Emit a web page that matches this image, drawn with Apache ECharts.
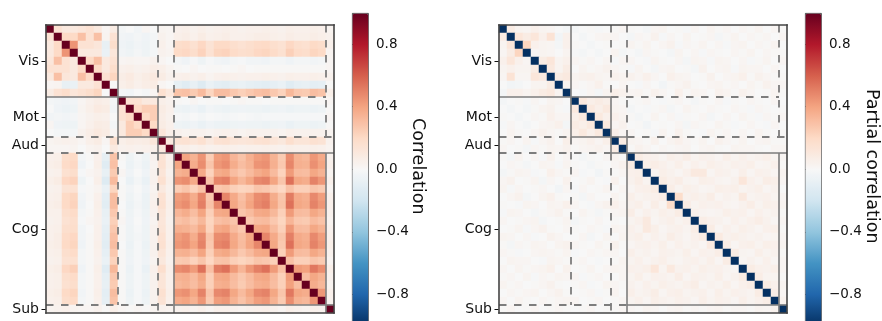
<!DOCTYPE html>
<html>
<head>
<meta charset="utf-8">
<script src="https://cdn.jsdelivr.net/npm/echarts@6/dist/echarts.min.js"></script>
<style>html,body{margin:0;padding:0;background:#fff}#c{width:882px;height:321px}</style>
</head>
<body>
<div id="c"></div>
<script>
// ---------- data ----------
const groupNames = ['Vis', 'Mot', 'Aud', 'Cog', 'Sub'];
const groupSizes = [9, 5, 2, 19, 1];
const colorbarTicks = [-0.8, -0.4, 0.0, 0.4, 0.8];
const leftTitle = 'Correlation';
const rightTitle = 'Partial correlation';
const corrDiag = 1.0;
const partialDiag = -1.0;

// lower triangles (row i holds columns 0..i-1); matrices are symmetric
const corrLower = [
 [],
 [0.15],
 [0.10,0.20],
 [0.10,0.20,0.45],
 [0.12,0.30,0.15,0.10],
 [0.15,0.15,0.15,0.10,0.20],
 [0.10,0.30,0.12,0.10,0.30,0.20],
 [0.02,0.03,-0.08,-0.07,0.10,0.10,0.15],
 [0.08,0.15,0.18,0.12,0.15,0.18,0.22,0.00],
 [-0.02,-0.03,-0.04,-0.03,0.02,0.05,0.07,0.06,-0.02],
 [0.00,-0.04,-0.06,-0.05,0.03,0.06,0.09,0.08,-0.03, 0.15],
 [-0.03,-0.02,-0.03,-0.02,0.02,0.04,0.06,0.05,0.00, 0.15,0.20],
 [0.02,-0.04,-0.05,-0.05,0.02,0.05,0.08,0.07,-0.02, 0.10,0.25,0.20],
 [0.00,-0.02,-0.02,-0.02,0.04,0.07,0.10,0.08,0.02, 0.10,0.25,0.25,0.20],
 [0.03,0.04,0.05,0.04,0.02,0.06,0.08,0.02,0.16, 0.06,0.08,0.07,0.08,0.12],
 [0.02,0.02,0.02,0.03,0.00,0.03,0.04,0.00,0.10, 0.04,0.05,0.04,0.05,0.06, 0.10],
 [0.05,0.06,0.18,0.20,-0.02,0.01,0.05,-0.09,0.29, 0.01,-0.05,-0.01,-0.05,0.04, 0.14,0.05],
 [0.06,0.07,0.19,0.21,-0.04,0.00,0.06,-0.12,0.30, 0.00,-0.06,-0.02,-0.06,0.03, 0.15,0.06, 0.40],
 [0.04,0.05,0.16,0.18,-0.01,0.02,0.04,-0.08,0.26, 0.02,-0.04,0.00,-0.04,0.04, 0.13,0.04, 0.35,0.37],
 [0.06,0.08,0.21,0.23,-0.05,0.00,0.06,-0.13,0.32, 0.00,-0.07,-0.02,-0.07,0.04, 0.16,0.06, 0.45,0.47,0.38],
 [0.04,0.05,0.14,0.15,-0.01,0.01,0.03,-0.07,0.22, 0.01,-0.03,0.00,-0.04,0.03, 0.10,0.04, 0.25,0.28,0.23,0.29],
 [0.05,0.06,0.20,0.22,-0.03,0.01,0.05,-0.10,0.31, 0.01,-0.05,-0.01,-0.06,0.04, 0.15,0.05, 0.42,0.44,0.37,0.49,0.27],
 [0.06,0.07,0.20,0.23,-0.04,0.00,0.06,-0.11,0.31, 0.00,-0.06,-0.02,-0.06,0.05, 0.16,0.06, 0.44,0.47,0.39,0.51,0.29,0.49],
 [0.05,0.05,0.17,0.19,-0.02,0.01,0.05,-0.08,0.27, 0.01,-0.05,-0.01,-0.05,0.04, 0.13,0.05, 0.34,0.37,0.31,0.40,0.24,0.38,0.39],
 [0.04,0.05,0.15,0.17,-0.01,0.02,0.04,-0.07,0.24, 0.02,-0.04,0.00,-0.04,0.03, 0.12,0.04, 0.29,0.31,0.27,0.33,0.22,0.30,0.32,0.28],
 [0.05,0.06,0.17,0.18,-0.03,0.00,0.05,-0.09,0.27, 0.01,-0.05,-0.01,-0.05,0.04, 0.13,0.05, 0.36,0.35,0.32,0.39,0.23,0.38,0.40,0.32,0.27],
 [0.05,0.07,0.19,0.21,-0.03,0.01,0.05,-0.10,0.30, 0.01,-0.05,-0.02,-0.05,0.04, 0.15,0.05, 0.42,0.45,0.37,0.48,0.28,0.47,0.48,0.38,0.31,0.39],
 [0.06,0.07,0.20,0.22,-0.04,0.01,0.06,-0.11,0.31, 0.00,-0.06,-0.01,-0.06,0.04, 0.16,0.06, 0.44,0.46,0.40,0.50,0.27,0.49,0.51,0.39,0.32,0.40,0.49],
 [0.05,0.06,0.17,0.19,-0.02,0.01,0.05,-0.09,0.27, 0.01,-0.05,-0.01,-0.05,0.04, 0.13,0.05, 0.35,0.36,0.32,0.40,0.24,0.37,0.39,0.33,0.27,0.32,0.38,0.39],
 [0.04,0.05,0.15,0.16,-0.02,0.01,0.04,-0.07,0.23, 0.01,-0.04,-0.01,-0.04,0.03, 0.11,0.04, 0.26,0.27,0.23,0.28,0.21,0.28,0.29,0.24,0.22,0.24,0.28,0.27,0.24],
 [0.06,0.07,0.21,0.24,-0.04,0.01,0.06,-0.12,0.33, 0.01,-0.06,-0.01,-0.07,0.05, 0.17,0.06, 0.47,0.49,0.43,0.55,0.30,0.52,0.55,0.43,0.34,0.44,0.51,0.55,0.43,0.30],
 [0.05,0.06,0.17,0.19,-0.02,0.01,0.05,-0.09,0.27, 0.01,-0.05,-0.01,-0.05,0.04, 0.13,0.05, 0.35,0.36,0.32,0.39,0.24,0.38,0.39,0.32,0.27,0.32,0.38,0.39,0.32,0.24,0.43],
 [0.05,0.06,0.16,0.18,-0.02,0.01,0.05,-0.08,0.26, 0.01,-0.05,-0.01,-0.05,0.04, 0.13,0.05, 0.33,0.35,0.31,0.37,0.24,0.36,0.37,0.31,0.26,0.31,0.36,0.37,0.31,0.24,0.41,0.31],
 [0.06,0.07,0.20,0.22,-0.03,0.01,0.06,-0.10,0.31, 0.01,-0.06,-0.01,-0.06,0.04, 0.16,0.06, 0.44,0.46,0.39,0.50,0.28,0.48,0.50,0.39,0.32,0.39,0.48,0.50,0.39,0.28,0.53,0.39,0.37],
 [0.05,0.06,0.18,0.20,-0.02,0.01,0.05,-0.09,0.29, 0.01,-0.05,-0.01,-0.05,0.04, 0.14,0.05, 0.38,0.40,0.35,0.44,0.26,0.42,0.44,0.35,0.29,0.35,0.42,0.44,0.35,0.26,0.47,0.35,0.33,0.44],
 [0.03,0.04,0.05,0.03,0.02,0.02,0.04,0.01,0.06, 0.02,0.01,0.02,0.01,0.03, 0.04,0.03, 0.04,0.05,0.03,0.05,0.02,0.05,0.05,0.04,0.03,0.04,0.05,0.06,0.04,0.02,0.06,0.04,0.03,0.05,0.04]
];

const partialLower = [
 [],
 [0.08],
 [0.03,0.12],
 [0.02,0.08,0.22],
 [0.05,0.12,0.05,0.02],
 [0.03,0.05,0.03,0.03,0.08],
 [0.02,0.14,0.02,0.02,0.12,0.10],
 [0.00,-0.03,-0.02,0.00,0.03,0.03,0.08],
 [-0.02,0.05,0.05,0.03,0.05,0.08,0.10,0.03],
 [-0.02,0.00,0.01,-0.01,0.02,0.00,0.03,0.02,0.00],
 [0.00,-0.02,0.00,-0.02,0.01,0.03,0.04,0.01,-0.01, 0.10],
 [0.01,0.00,-0.02,0.00,0.02,0.01,0.05,0.02,0.02, 0.06,0.10],
 [-0.01,0.02,0.00,-0.02,0.00,0.02,0.03,0.05,-0.02, 0.08,0.06,0.10],
 [0.00,0.03,0.01,0.00,0.02,0.04,0.02,0.01,0.03, 0.06,0.10,0.05,0.10],
 [0.01,0.02,0.00,0.03,-0.01,0.02,0.04,0.00,0.06, 0.02,0.03,0.05,0.02,0.06],
 [0.02,0.00,0.01,-0.02,0.02,0.01,0.03,0.02,0.04, 0.01,0.02,0.03,0.04,0.02, 0.08],
 [0.01,-0.02,0.03,0.00,0.02,-0.01,0.04,0.00,0.02, 0.00,-0.02,0.01,0.00,0.02, 0.03,0.01],
 [0.00,0.02,0.01,-0.02,0.00,0.03,0.02,-0.01,0.03, 0.01,0.00,-0.02,0.01,0.00, 0.02,0.04, 0.08],
 [-0.02,0.01,0.03,0.02,-0.01,0.00,0.05,0.02,0.01, 0.02,-0.01,0.00,-0.03,0.01, 0.01,0.02, 0.05,0.06],
 [0.02,0.04,0.00,0.01,0.03,-0.02,0.02,0.00,0.04, 0.00,0.01,0.03,0.00,-0.01, 0.04,0.00, 0.04,0.07,0.03],
 [0.03,-0.01,0.02,0.00,0.01,0.02,0.00,-0.03,0.02, -0.01,0.02,0.00,0.01,0.03, 0.00,0.02, 0.02,0.05,0.06,0.08],
 [0.00,0.02,0.04,-0.02,0.00,0.03,0.05,0.01,0.00, 0.01,-0.02,0.02,0.00,0.00, 0.03,0.01, 0.06,0.03,0.04,0.05,0.07],
 [0.01,0.00,-0.01,0.03,0.02,0.00,0.03,0.02,0.05, 0.02,0.00,-0.01,0.02,0.04, 0.05,0.02, 0.04,0.06,0.02,0.07,0.03,0.18],
 [-0.01,0.03,0.02,0.00,-0.02,0.01,0.02,0.04,0.01, 0.00,0.03,0.01,-0.02,0.01, 0.02,0.03, 0.07,0.02,0.05,0.03,0.06,0.04,0.08],
 [0.02,0.00,0.01,0.02,0.03,-0.02,0.00,0.01,0.03, -0.02,0.01,0.00,0.02,0.00, 0.01,0.00, 0.03,0.05,0.10,0.02,0.04,0.06,0.03,0.05],
 [0.00,0.01,0.03,-0.01,0.02,0.04,0.01,0.00,0.02, 0.01,0.00,0.02,0.01,-0.01, 0.03,0.02, 0.05,0.03,0.10,0.06,0.02,0.04,0.05,0.03,0.07],
 [0.03,0.02,0.00,0.02,-0.01,0.00,0.04,0.02,0.00, 0.00,0.02,-0.02,0.00,0.03, 0.00,0.03, 0.04,0.06,0.02,0.05,0.03,0.07,0.04,0.02,0.05,0.08],
 [0.01,-0.02,0.02,0.01,0.03,0.02,0.00,0.03,0.04, 0.02,0.01,0.00,0.03,0.01, 0.04,0.01, 0.02,0.04,0.05,0.03,0.06,0.02,0.05,0.03,0.04,0.02,0.09],
 [0.02,0.01,-0.01,0.00,0.02,0.03,0.02,0.01,0.03, -0.01,0.00,0.02,0.01,0.02, 0.02,0.00, 0.06,0.03,0.04,0.02,0.05,0.04,0.03,0.06,0.02,0.05,0.04,0.07],
 [0.00,0.03,0.02,0.02,0.00,-0.01,0.03,0.02,0.01, 0.01,0.02,0.00,-0.01,0.00, 0.01,0.03, 0.03,0.05,0.02,0.04,0.06,0.03,0.02,0.04,0.05,0.03,0.06,0.02,0.08],
 [0.02,0.00,0.03,0.01,0.02,0.03,0.05,0.00,0.04, 0.00,0.01,0.03,0.00,0.02, 0.03,0.02, 0.05,0.04,0.06,0.12,0.03,0.10,0.04,0.05,0.03,0.06,0.04,0.05,0.03,0.02],
 [0.01,0.02,0.00,0.03,-0.01,0.02,0.01,0.03,0.02, 0.02,-0.01,0.01,0.02,0.00, 0.00,0.02, 0.03,0.06,0.02,0.05,0.04,0.03,0.07,0.02,0.05,0.04,0.03,0.06,0.02,0.04,0.08],
 [0.03,0.01,0.02,0.00,0.01,0.02,0.04,0.01,0.00, 0.01,0.02,-0.01,0.00,0.03, 0.02,0.01, 0.04,0.02,0.05,0.03,0.06,0.04,0.03,0.05,0.07,0.02,0.04,0.03,0.06,0.02,0.05,0.07],
 [0.00,0.02,0.01,0.02,0.03,0.00,0.02,0.04,0.01, 0.00,0.01,0.02,-0.01,0.01, 0.03,0.00, 0.06,0.03,0.04,0.07,0.02,0.05,0.06,0.03,0.04,0.05,0.02,0.06,0.03,0.05,0.04,0.03,0.08],
 [0.02,0.00,0.03,0.01,0.00,0.02,0.01,0.02,0.03, 0.02,0.00,0.01,0.02,0.00, 0.01,0.02, 0.03,0.05,0.02,0.06,0.04,0.03,0.05,0.04,0.02,0.06,0.03,0.05,0.04,0.02,0.06,0.03,0.05,0.07],
 [0.01,0.02,0.00,0.01,0.02,0.00,0.01,0.02,0.01, 0.00,0.01,0.02,0.00,0.01, 0.01,0.02, 0.02,0.01,0.03,0.02,0.00,0.02,0.03,0.01,0.02,0.01,0.02,0.03,0.01,0.02,0.02,0.01,0.03,0.02,0.04]
];

// RdBu_r colour stops (low -> high)
const rdbuR = ['#053061','#2166ac','#4393c3','#92c5de','#d1e5f0','#f7f7f7','#fddbc7','#f4a582','#d6604d','#b2182b','#67001f'];

// block-boundary annotation lines, as indices into the group boundary list [x1,y1,x2,y2]
const solidRefs  = [[1,0,1,2],[0,1,2,1],[2,1,2,3],[1,2,3,2],[2,3,5,3],[3,2,3,5],[4,3,4,5],[3,4,5,4]];
const dashedRefs = [[2,0,2,1],[3,0,3,2],[4,0,4,2],[2,1,4,1],[0,2,1,2],[3,2,5,2],[0,3,2,3],[1,2,1,4],[2,3,2,5],[0,4,3,4]];
const frameRefs  = [[0,0,5,0],[5,0,5,5],[5,5,0,5],[0,5,0,0]];

// ---------- build ----------
const bounds = [0];
groupSizes.forEach(s => bounds.push(bounds[bounds.length - 1] + s));
const N = bounds[bounds.length - 1];
const nodes = Array.from({length: N}, (_, i) => 'n' + i);
const groupCenters = groupNames.map((g, i) => (bounds[i] + bounds[i + 1]) / 2);

function buildHeat(lower, diag) {
  const M = Array.from({length: N}, () => new Array(N).fill(0));
  for (let i = 0; i < N; i++) {
    if (lower[i].length !== i) throw new Error('row ' + i + ' has ' + lower[i].length);
    M[i][i] = diag;
    for (let j = 0; j < i; j++) { M[i][j] = lower[i][j]; M[j][i] = lower[i][j]; }
  }
  const out = [];
  for (let i = 0; i < N; i++) for (let j = 0; j < N; j++) out.push([j, i, M[i][j]]);
  return out;
}
const heatLeft = buildHeat(corrLower, corrDiag);
const heatRight = buildHeat(partialLower, partialDiag);

const segData = [];
dashedRefs.forEach(r => segData.push([bounds[r[0]], bounds[r[1]], bounds[r[2]], bounds[r[3]], 0]));
solidRefs.forEach(r => segData.push([bounds[r[0]], bounds[r[1]], bounds[r[2]], bounds[r[3]], 1]));
frameRefs.forEach(r => segData.push([bounds[r[0]], bounds[r[1]], bounds[r[2]], bounds[r[3]], 2]));

// ---------- layout ----------
const FONT = 'DejaVu Sans';
const TXT = '#111111';
const heatRects = [{left: 46, top: 25, width: 288, height: 288}, {left: 499, top: 25, width: 288, height: 288}];
const barRects = [{left: 352, top: 13, width: 16, height: 312.5}, {left: 805, top: 13, width: 16, height: 312.5}];

const grids = [], xAxes = [], yAxes = [], series = [], visualMaps = [], graphics = [];
function fmtTick(v) { return (v < 0 ? '\u2212' : '') + Math.abs(v).toFixed(1); }

[0, 1].forEach(p => {
  const r = heatRects[p], b = barRects[p];
  grids.push(Object.assign({outerBoundsMode: 'none', containLabel: false}, r));
  const gH = grids.length - 1;
  xAxes.push({gridIndex: gH, type: 'category', data: nodes, show: false});
  yAxes.push({gridIndex: gH, type: 'category', data: nodes, inverse: true, show: false});
  series.push({type: 'heatmap', xAxisIndex: xAxes.length - 1, yAxisIndex: yAxes.length - 1,
    data: p === 0 ? heatLeft : heatRight, emphasis: {disabled: true}, itemStyle: {borderWidth: 0},
    progressive: 0, z: 2});
  visualMaps.push({type: 'continuous', min: -1, max: 1, seriesIndex: series.length - 1,
    calculable: false, hoverLink: false, orient: 'vertical', left: b.left, top: b.top,
    itemWidth: b.width, itemHeight: b.height, padding: 0, text: null, showLabel: false,
    borderColor: '#222', borderWidth: 0.8, inRange: {color: rdbuR}});

  grids.push(Object.assign({outerBoundsMode: 'none', containLabel: false}, r));
  const gO = grids.length - 1;
  xAxes.push({gridIndex: gO, type: 'value', min: 0, max: N, show: false});
  yAxes.push({gridIndex: gO, type: 'value', min: 0, max: N, inverse: true,
    axisLine: {show: false}, splitLine: {show: false},
    axisTick: {show: true, length: 4.5, customValues: groupCenters, lineStyle: {color: TXT, width: 1}},
    axisLabel: {show: true, customValues: groupCenters, margin: 7, fontFamily: FONT, fontSize: 14, color: TXT,
      formatter: v => { const k = groupCenters.findIndex(c => Math.abs(c - v) < 1e-6); return k >= 0 ? groupNames[k] : ''; }}});
  series.push({type: 'custom', xAxisIndex: xAxes.length - 1, yAxisIndex: yAxes.length - 1,
    data: segData, clip: false, z: 5, silent: true,
    renderItem: (params, api) => {
      const a = api.coord([api.value(0), api.value(1)]);
      const c = api.coord([api.value(2), api.value(3)]);
      const kind = api.value(4);
      const style = kind === 2 ? {stroke: '#444444', lineWidth: 1.6, lineCap: 'square'}
        : kind === 1 ? {stroke: '#7d7d7d', lineWidth: 1.6}
        : {stroke: '#7d7d7d', lineWidth: 1.8, lineDash: [7.5, 7.5]};
      return {type: 'line', shape: {x1: a[0], y1: a[1], x2: c[0], y2: c[1]}, style: style, z2: kind};
    }});

  const per = b.height / 2;
  grids.push({outerBoundsMode: 'none', containLabel: false, left: b.left, width: b.width,
    top: b.top + (1 - 0.8) * per, height: 1.6 * per});
  const gC = grids.length - 1;
  xAxes.push({gridIndex: gC, type: 'value', show: false});
  yAxes.push({gridIndex: gC, type: 'value', position: 'right', min: colorbarTicks[0],
    max: colorbarTicks[colorbarTicks.length - 1], interval: 0.4,
    axisLine: {show: false}, splitLine: {show: false},
    axisTick: {show: true, length: 4, lineStyle: {color: TXT, width: 1}},
    axisLabel: {show: true, margin: 8, fontFamily: FONT, fontSize: 13.5, color: TXT, formatter: fmtTick}});

  graphics.push({type: 'text', x: p === 0 ? 418 : 872, y: b.top + b.height / 2 - 3, rotation: -Math.PI / 2,
    style: {text: p === 0 ? leftTitle : rightTitle, fontFamily: FONT, fontSize: 17.5, fill: TXT,
      textAlign: 'center', textVerticalAlign: 'middle'}});
});

const chart = echarts.init(document.getElementById('c'), null, {renderer: 'canvas'});
chart.setOption({
  animation: false,
  backgroundColor: '#ffffff',
  grid: grids, xAxis: xAxes, yAxis: yAxes,
  visualMap: visualMaps, series: series, graphic: graphics
});
</script>
</body>
</html>
